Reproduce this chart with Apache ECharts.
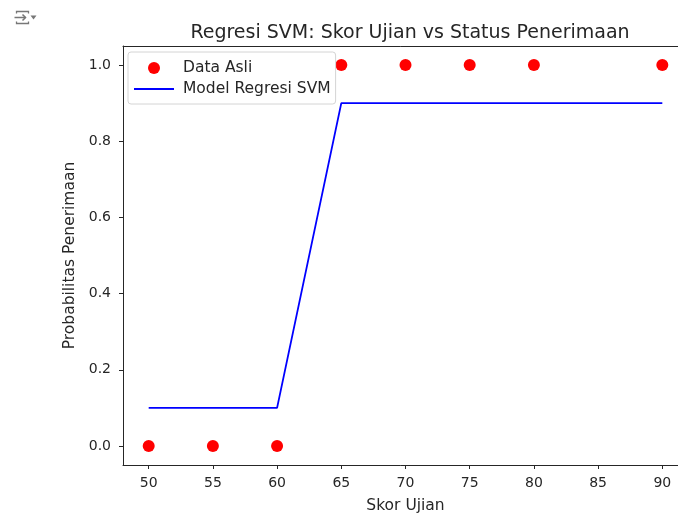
<!DOCTYPE html>
<html>
<head>
<meta charset="utf-8">
<script src="https://cdn.jsdelivr.net/npm/echarts@6/dist/echarts.min.js"></script>
<style>
  html, body { margin: 0; padding: 0; background: #fff; }
  #main { width: 678px; height: 513px; }
</style>
</head>
<body>
<div id="main"></div>
<script>
// data
var skor = [50, 55, 60, 65, 70, 75, 80, 90];
var statusAsli = [0, 0, 0, 1, 1, 1, 1, 1];
var prediksiSVM = [0.1, 0.1, 0.1, 0.9, 0.9, 0.9, 0.9, 0.9];
var xTicks = [50, 55, 60, 65, 70, 75, 80, 85, 90];
var yTicks = [0, 0.2, 0.4, 0.6, 0.8, 1.0];

var font = 'DejaVu Sans';
var ink = '#262626';
var myChart = echarts.init(document.getElementById('main'));

var pairs = function (xs, ys) {
    var res = [];
    for (var i = 0; i < xs.length; i++) {
        res.push([xs[i], ys[i]]);
    }
    return res;
};

option = {
    backgroundColor: '#fff',
    animation: false,
    textStyle: { fontFamily: font },
    title: {
        text: 'Regresi SVM: Skor Ujian vs Status Penerimaan',
        left: 405,
        top: 19,
        textAlign: 'center',
        textStyle: { fontFamily: font, fontSize: 19, fontWeight: 'normal', color: ink }
    },
    legend: {
        orient: 'vertical',
        left: 128,
        top: 52,
        padding: [8, 5, 7, 5],
        itemGap: 5,
        itemWidth: 40,
        itemHeight: 12,
        backgroundColor: 'rgba(255,255,255,0.8)',
        borderColor: '#d4d4d4',
        borderWidth: 1,
        borderRadius: 3,
        textStyle: { fontFamily: font, fontSize: 15.5, color: ink, padding: [0, 0, 0, 4] },
        data: [
            { name: 'Data Asli', icon: 'circle' },
            // hide the marker the line legend icon draws in the middle
            { name: 'Model Regresi SVM', itemStyle: { opacity: 0 } }
        ]
    },
    grid: {
        left: 123,
        top: 46,
        width: 565,
        height: 419,
        outerBoundsMode: 'none',
        containLabel: false
    },
    xAxis: [
        {
            type: 'value',
            min: 48,
            max: 92,
            name: 'Skor Ujian',
            nameLocation: 'middle',
            nameGap: 33,
            nameTextStyle: { fontFamily: font, fontSize: 15.5, color: ink },
            axisLine: { show: true, onZero: false, lineStyle: { color: ink, width: 1 } },
            axisTick: { show: true, length: 4, customValues: xTicks, lineStyle: { color: ink } },
            axisLabel: { customValues: xTicks, fontFamily: font, fontSize: 14, color: ink, margin: 11 },
            splitLine: { show: false }
        },
        {
            // top spine only
            type: 'value',
            position: 'top',
            min: 48,
            max: 92,
            axisLine: { show: true, onZero: false, lineStyle: { color: ink, width: 1 } },
            axisTick: { show: false },
            axisLabel: { show: false },
            splitLine: { show: false }
        }
    ],
    yAxis: {
        type: 'value',
        min: -0.05,
        max: 1.05,
        name: 'Probabilitas Penerimaan',
        nameLocation: 'middle',
        nameGap: 45,
        nameTextStyle: { fontFamily: font, fontSize: 15.5, color: ink },
        axisLine: { show: true, onZero: false, lineStyle: { color: ink, width: 1 } },
        axisTick: { show: true, length: 4, customValues: yTicks, lineStyle: { color: ink } },
        axisLabel: {
            customValues: yTicks,
            fontFamily: font, fontSize: 14, color: ink, margin: 12,
            formatter: function (v) { return v.toFixed(1); }
        },
        splitLine: { show: false }
    },
    graphic: [
        {
            type: 'group',
            left: 12,
            top: 9,
            children: [
                { type: 'polyline', shape: { points: [[2, 4], [2, 2], [14, 2], [14, 4]] }, style: { stroke: '#777', lineWidth: 1.3, fill: null } },
                { type: 'line', shape: { x1: 0, y1: 8, x2: 11, y2: 8 }, style: { stroke: '#777', lineWidth: 1.5 } },
                { type: 'polyline', shape: { points: [[8, 5], [11, 8], [8, 11]] }, style: { stroke: '#777', lineWidth: 1.5, fill: null } },
                { type: 'polygon', shape: { points: [[16, 6], [22, 6], [19, 10]] }, style: { fill: '#777' } },
                { type: 'polyline', shape: { points: [[2, 12], [2, 14], [14, 14], [14, 12]] }, style: { stroke: '#777', lineWidth: 1.3, fill: null } }
            ]
        }
    ],
    series: [
        {
            name: 'Data Asli',
            type: 'scatter',
            data: pairs(skor, statusAsli),
            symbol: 'circle',
            symbolSize: 12,
            itemStyle: { color: '#ff0000', opacity: 1 },
            z: 3
        },
        {
            name: 'Model Regresi SVM',
            type: 'line',
            data: pairs(skor, prediksiSVM),
            symbol: 'none',
            showSymbol: false,
            lineStyle: { color: '#0000ff', width: 1.8 },
            itemStyle: { color: '#0000ff' },
            z: 2
        }
    ]
};

myChart.setOption(option);
</script>
</body>
</html>
